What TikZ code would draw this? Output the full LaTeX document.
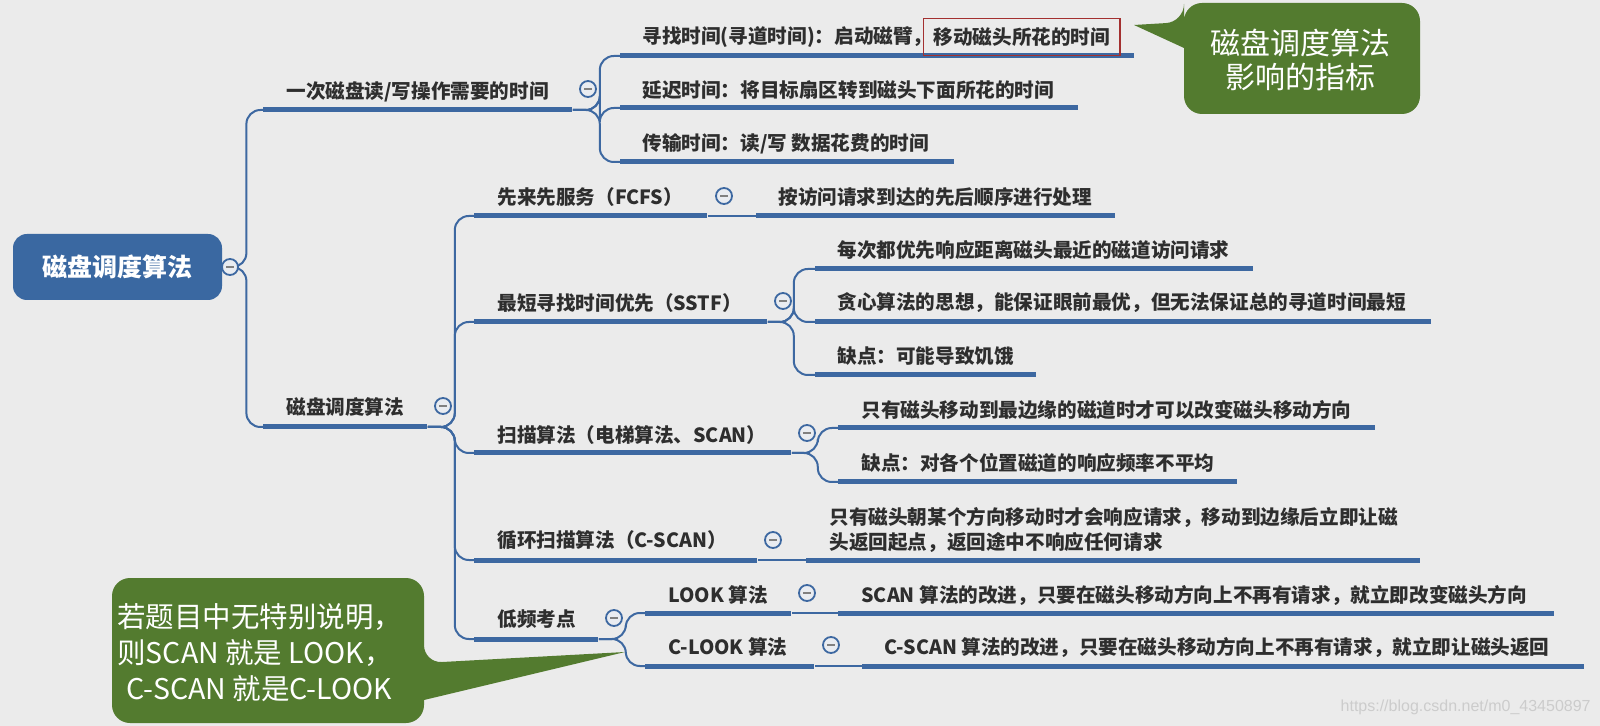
\documentclass[tikz,border=0pt]{standalone}
\usepackage{fontspec}
\setmainfont{Noto Sans CJK SC}
\newfontfamily\urlfont{Liberation Sans}
\usetikzlibrary{positioning}
\definecolor{bggray}{HTML}{EBEBEB}
\definecolor{mapblue}{HTML}{3D68A1}
\definecolor{rootblue}{HTML}{3A68A1}
\definecolor{txtgray}{HTML}{2E2E2E}
\definecolor{foldfill}{HTML}{E9ECF1}
\definecolor{notegreen}{HTML}{537B2F}
\definecolor{boxred}{HTML}{A33030}

\tikzset{
  rootbox/.style={fill=rootblue, rounded corners=7pt, text=white, minimum width=104.5pt, minimum height=33pt, inner sep=0pt, font=\fontsize{12.5}{14}\selectfont\bfseries},
  bar/.style={fill=mapblue, inner sep=0pt, minimum height=2.5pt, minimum width=#1, anchor=west},
  topic/.style={anchor=west, inner sep=0pt, text=txtgray, font=\fontsize{9.8}{12.5}\selectfont\bfseries},
  redbox/.style={draw=boxred, line width=0.8pt, inner xsep=5pt, inner ysep=4.5pt},
  conn/.style={draw=mapblue, line width=1pt, rounded corners=7pt},
  fold/.style={circle, draw=mapblue, line width=0.9pt, fill=foldfill, minimum size=8pt, inner sep=0pt,
    path picture={\draw[gray, line width=0.8pt] ([xshift=-2pt]path picture bounding box.center) -- ([xshift=2pt]path picture bounding box.center);}},
  note/.style={fill=notegreen},
  notetext/.style={text=white, inner sep=0pt},
  wmark/.style={text=gray!40, inner sep=0pt, font=\urlfont\fontsize{8}{9}\selectfont}
}

\begin{document}
\begin{tikzpicture}[x=0.5pt,y=-0.5pt]
  \fill[bggray] (0,0) rectangle (1600,726);
  \node[rootbox] (root) at (117.5,267) {磁盘调度算法};
  % first level
  \node[bar=154.5pt] (b1) at (263,110) {};
  \node[topic] (t1) at (286,92) {一次磁盘读/写操作需要的时间};
  \node[bar=82pt] (b2) at (263,427) {};
  \node[topic] (t2) at (286,407) {磁盘调度算法};
  % times of one access
  \node[bar=257pt] (b11) at (620,56) {};
  \node[topic] (t11) at (642,37) {寻找时间(寻道时间)：启动磁臂，};
  \node[topic, redbox, right=-5pt of t11] (t11r) {移动磁头所花的时间};
  \node[bar=229pt] (b12) at (620,108) {};
  \node[topic] (t12) at (642,90) {延迟时间：将目标扇区转到磁头下面所花的时间};
  \node[bar=167pt] (b13) at (620,162) {};
  \node[topic] (t13) at (642,144) {传输时间：读/写 数据花费的时间};
  % FCFS
  \node[bar=116.5pt] (b21) at (474,216) {};
  \node[topic] (t21) at (497,197) {先来先服务（FCFS）};
  \node[bar=179.5pt] (b211) at (756,216) {};
  \node[topic] (t211) at (778,197) {按访问请求到达的先后顺序进行处理};
  % SSTF
  \node[bar=146.5pt] (b22) at (474,322) {};
  \node[topic] (t22) at (497,303) {最短寻找时间优先（SSTF）};
  \node[bar=219pt] (b221) at (815,269) {};
  \node[topic] (t221) at (837,250) {每次都优先响应距离磁头最近的磁道访问请求};
  \node[bar=308pt] (b222) at (815,322) {};
  \node[topic] (t222) at (837,303) {贪心算法的思想，能保证眼前最优，但无法保证总的寻道时间最短};
  \node[bar=110.5pt] (b223) at (815,375) {};
  \node[topic] (t223) at (837,356) {缺点：可能导致饥饿};
  % SCAN
  \node[bar=158.5pt] (b23) at (474,453) {};
  \node[topic] (t23) at (497,435) {扫描算法（电梯算法、SCAN）};
  \node[bar=268.5pt] (b231) at (838,428) {};
  \node[topic] (t231) at (861,410) {只有磁头移动到最边缘的磁道时才可以改变磁头移动方向};
  \node[bar=199.5pt] (b232) at (838,482) {};
  \node[topic] (t232) at (861,463) {缺点：对各个位置磁道的响应频率不平均};
  % C-SCAN
  \node[bar=141.5pt] (b24) at (474,560) {};
  \node[topic] (t24) at (497,540) {循环扫描算法（C-SCAN）};
  \node[bar=307pt] (b241) at (806,560) {};
  \node[topic, align=left] (t241) at (829,529.5) {只有磁头朝某个方向移动时才会响应请求，移动到边缘后立即让磁\\头返回起点，返回途中不响应任何请求};
  % LOOK, C-LOOK
  \node[bar=62pt] (b25) at (474,639) {};
  \node[topic] (t25) at (497,619) {低频考点};
  \node[bar=73pt] (b251) at (645,613) {};
  \node[topic] (t251) at (668,595) {LOOK 算法};
  \node[bar=358pt] (b2511) at (838,613) {};
  \node[topic] (t2511) at (861,595) {SCAN 算法的改进，只要在磁头移动方向上不再有请求，就立即改变磁头方向};
  \node[bar=84.5pt] (b252) at (645,666) {};
  \node[topic] (t252) at (668,647) {C-LOOK 算法};
  \node[bar=361pt] (b2521) at (862,666) {};
  \node[topic] (t2521) at (884,647) {C-SCAN 算法的改进，只要在磁头移动方向上不再有请求，就立即让磁头返回};
  % branches
  \foreach \c in {b1,b2} \draw[conn] (root.east) -- ++(24,0) |- (\c.west);
  \foreach \c in {b11,b12,b13} \draw[conn] (b1.east) -- ++(27,0) |- (\c.west);
  \foreach \c in {b21,b22,b23,b24,b25} \draw[conn] (b2.east) -- ++(27,0) |- (\c.west);
  \foreach \c in {b221,b222,b223} \draw[conn] (b22.east) -- ++(26,0) |- (\c.west);
  \foreach \c in {b231,b232} \draw[conn] (b23.east) -- ++(26,0) |- (\c.west);
  \foreach \c in {b251,b252} \draw[conn] (b25.east) -- ++(27,0) |- (\c.west);
  \draw[conn] (b21.east) -- (b211.west);
  \draw[conn] (b24.east) -- (b241.west);
  \draw[conn] (b251.east) -- (b2511.west);
  \draw[conn] (b252.east) -- (b2521.west);
  % fold buttons
  \node[fold] (f0) at (230,267) {};
  \node[fold] (f1) at (588,89) {};
  \node[fold] (f2) at (443,406) {};
  \node[fold] (f21) at (724,196) {};
  \node[fold] (f22) at (783,301) {};
  \node[fold] (f23) at (807,433) {};
  \node[fold] (f24) at (773,540) {};
  \node[fold] (f25) at (614,618) {};
  \node[fold] (f251) at (807,593) {};
  \node[fold] (f252) at (831,645) {};
  % notes
  \fill[note] (1134,25) -- (1184,48) [rounded corners=9pt] -- (1184,114) -- (1420,114) -- (1420,3) -- (1184,3) -- (1184,22) [sharp corners] -- cycle;
  \node[notetext, align=center, font=\fontsize{15}{17}\selectfont] (n1) at (1300,60) {磁盘调度算法\\影响的指标};
  \fill[note] (625,652) -- (424,700) [rounded corners=9pt] -- (424,723) -- (112,723) -- (112,578) -- (424,578) -- (424,663) [sharp corners] -- cycle;
  \node[notetext, align=left, anchor=west, font=\fontsize{14.25}{18}\selectfont] (n2) at (117,653) {若题目中无特别说明，\\则SCAN 就是 LOOK，\\\hspace*{4.5pt}C-SCAN 就是C-LOOK};
  \node[wmark, anchor=east] (url) at (1591,707) {https://blog.csdn.net/m0\_43450897};
\end{tikzpicture}
\end{document}
